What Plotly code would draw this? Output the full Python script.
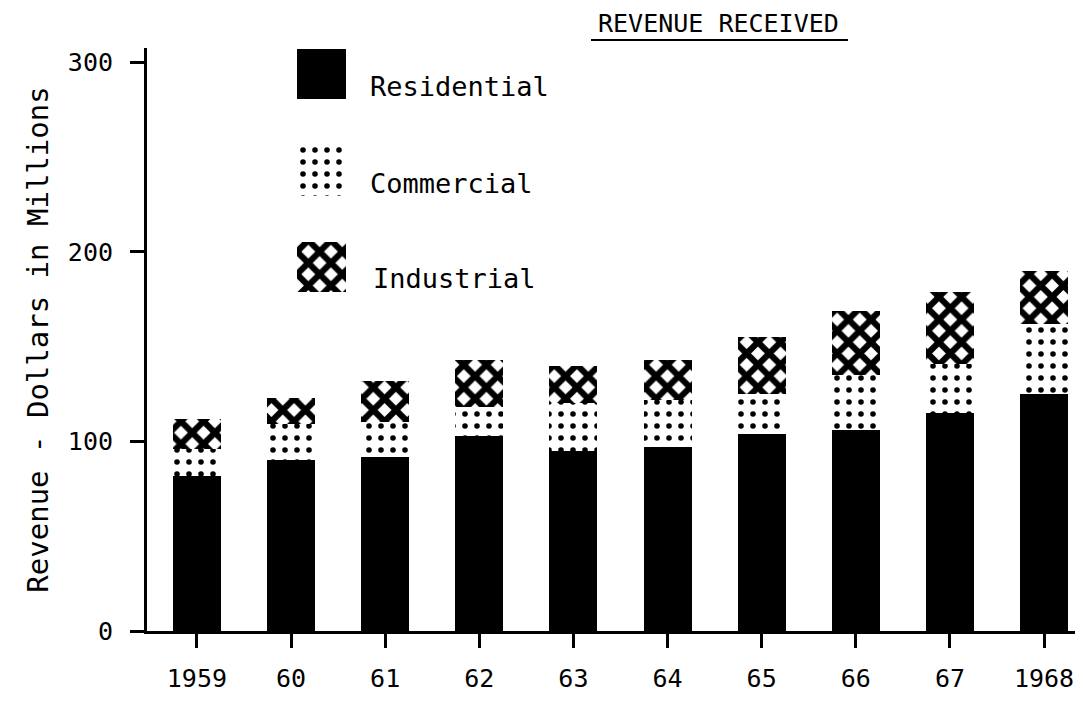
import plotly.graph_objects as go

years = ["1959", "60", "61", "62", "63", "64", "65", "66", "67", "1968"]
residential = [82, 90, 92, 103, 95, 97, 104, 106, 115, 125]
commercial = [14, 19, 18, 15, 25, 25, 21, 29, 26, 37]
industrial = [16, 14, 22, 25, 20, 21, 30, 34, 38, 28]
series_names = ["Residential", "Commercial", "Industrial"]
y_ticks = [0, 100, 200, 300]

FONT = "DejaVu Sans Mono"
xpos = list(range(len(years)))

# page geometry: the figure sits at an 8px offset inside the page
OFF = 8
W, H = 1083 - OFF, 704 - OFF
P_LEFT, P_RIGHT, P_TOP, P_BOTTOM = 147, 1077, 48, 631
L = P_LEFT - OFF
T = P_TOP - OFF
R = W - (P_RIGHT - OFF)
B = H - (P_BOTTOM - OFF)
pw, ph = P_RIGHT - P_LEFT, P_BOTTOM - P_TOP

def px2x(p):
    return (p - P_LEFT) / pw

def py2y(p):
    return (P_BOTTOM - p) / ph

def pat(shape, size, solidity):
    return dict(shape=shape, fgcolor="black", bgcolor="white", fgopacity=1,
                size=size, solidity=solidity, fillmode="replace")

dots = pat(".", 12, 0.17)
hatch = pat("x", 16, 0.62)
styles = [dict(color="black", line=dict(width=0)),
          dict(color="white", line=dict(width=0), pattern=dots),
          dict(color="white", line=dict(width=0), pattern=hatch)]

fig = go.Figure()
for name, vals, st in zip(series_names, [residential, commercial, industrial], styles):
    fig.add_trace(go.Bar(x=xpos, y=vals, name=name, width=0.51, marker=st))

# legend swatches drawn as bars on a small secondary axis
for i, (name, st) in enumerate(zip(series_names, styles)):
    fig.add_trace(go.Bar(y=[i], x=[1], orientation="h", width=0.52,
                         xaxis="x2", yaxis="y2", showlegend=False, hoverinfo="skip",
                         marker=st))

fig.update_layout(
    width=W, height=H,
    barmode="stack",
    bargap=0.49,
    showlegend=False,
    plot_bgcolor="white", paper_bgcolor="white",
    margin=dict(l=L, r=R, t=T, b=B, pad=0),
    font=dict(family=FONT, color="black", size=26),
    xaxis=dict(
        tickmode="array", tickvals=xpos, ticktext=years,
        range=[-0.53, 9.35],
        showgrid=False, zeroline=False,
        showline=True, linecolor="black", linewidth=3,
        ticks="outside", ticklen=14, tickwidth=3, tickcolor="black",
        tickfont=dict(size=25, family=FONT),
        ticklabelstandoff=9,
    ),
    yaxis=dict(
        range=[0, 307.5],
        tickmode="array", tickvals=y_ticks,
        showgrid=False, zeroline=False,
        showline=True, linecolor="black", linewidth=3,
        ticks="outside", ticklen=14, tickwidth=3, tickcolor="black",
        tickfont=dict(size=25, family=FONT),
        ticklabelstandoff=12,
        title=dict(text="Revenue - Dollars in Millions", font=dict(size=29, family=FONT),
                   standoff=11),
    ),
    xaxis2=dict(domain=[px2x(297), px2x(346)], range=[0, 1], visible=False,
                anchor="y2", fixedrange=True),
    yaxis2=dict(domain=[py2y(300), 1.0], range=[(300 - 74) / 96.5, -(74 - P_TOP) / 96.5],
                visible=False, anchor="x2", fixedrange=True),
)

labels = [(368, 86), (368, 183), (371, 278)]
for name, (lx, ly) in zip(series_names, labels):
    fig.add_annotation(text=name, xref="paper", yref="paper",
                       x=px2x(lx), y=py2y(ly), xanchor="left", yanchor="middle",
                       showarrow=False, font=dict(size=27, family=FONT))

fig.add_annotation(text="REVENUE RECEIVED", xref="paper", yref="paper",
                   x=px2x(718), y=py2y(24), xanchor="center", yanchor="middle",
                   showarrow=False, borderpad=0, font=dict(size=25, family=FONT))
fig.add_shape(type="line", xref="paper", yref="paper",
              x0=px2x(591), x1=px2x(848), y0=py2y(40), y1=py2y(40),
              line=dict(color="black", width=2))

fig.write_html("out.html")
